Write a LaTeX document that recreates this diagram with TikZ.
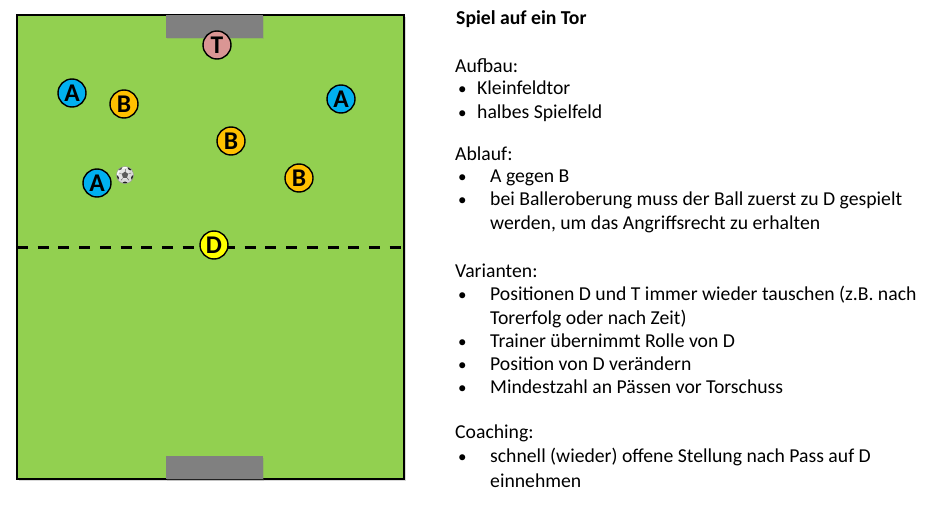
\documentclass[tikz,border=0pt]{standalone}
\usepackage{fontspec}
\setmainfont{Carlito}
\usetikzlibrary{shadows,calc}
\definecolor{fieldgreen}{HTML}{92D050}
\definecolor{plblue}{HTML}{00B0F0}
\definecolor{plorange}{HTML}{FFC000}
\definecolor{plyellow}{HTML}{FFFF00}
\definecolor{plpink}{HTML}{DA9694}
\definecolor{goalgray}{HTML}{808080}
\begin{document}
\begin{tikzpicture}[x=1pt,y=-1pt,
  player/.style={circle,draw=black,line width=1.4pt,minimum size=28pt,inner sep=0pt,
    font=\fontsize{25.5}{25}\selectfont\bfseries},
  pA/.style={player,fill=plblue},
  pB/.style={player,fill=plorange},
  pD/.style={player,fill=plyellow},
  pT/.style={player,fill=plpink},
  goalbox/.style={fill=goalgray,drop shadow={opacity=0.25,shadow xshift=1pt,shadow yshift=-1.5pt}},
  txt/.style={anchor=base west,inner sep=0pt,font=\fontsize{19.7}{23}\selectfont},
  ttl/.style={txt,font=\fontsize{19.7}{23}\selectfont\bfseries},
  bul/.style={anchor=base west,inner sep=0pt,font=\fontsize{17}{21}\selectfont},
]
\useasboundingbox (0,0) rectangle (931,508);
% field
\path[fill=fieldgreen,draw=black,line width=1.3pt,drop shadow={opacity=0.3,shadow xshift=1.5pt,shadow yshift=-2pt}] (17,15) rectangle (404,479);
% goals
\path[goalbox] (166,15) rectangle (263,38);
\path[goalbox] (166,456) rectangle (263,479);
% halfway dashed line
\coordinate (hl) at (17,247.5);
\coordinate (hr) at (404,247.5);
\draw[line width=3.3pt,dash pattern=on 11pt off 9.7pt] (hl) -- (hr);
% players
\node[pT] (t) at (217,45) {T};
\node[pA] (a1) at (72,93) {A};
\node[pB] (b1) at (124,104) {B};
\node[pA] (a2) at (341,99) {A};
\node[pB] (b2) at (231,141) {B};
\node[pA] (a3) at (97,183) {A};
\node[pB] (b3) at (299,178) {B};
\node[pD] (d) at (214,245) {D};
% ball
\coordinate (bc) at (125,175);
\begin{scope}
  \clip (bc) circle (8.5pt);
  \fill[white] (bc) circle (8.5pt);
  \fill[black!90] ($(bc)+(90:3.4pt)$) -- ($(bc)+(162:3.4pt)$) -- ($(bc)+(234:3.4pt)$) -- ($(bc)+(306:3.4pt)$) -- ($(bc)+(18:3.4pt)$) -- cycle;
  \foreach \a in {90,162,234,306,18} {
    \draw[black!55,line width=0.5pt] ($(bc)+(\a:3.4pt)$) -- ($(bc)+(\a:6.5pt)$);
    \fill[black!85] ($(bc)+(\a+180:9.5pt)$) circle (3pt);
  }
  \fill[black,opacity=0.15] ($(bc)+(1.5pt,-1.5pt)$) circle (8.5pt);
  \fill[white,opacity=0.3] ($(bc)+(-1.5pt,1.5pt)$) circle (6pt);
\end{scope}
\draw[black!40,line width=0.4pt] (bc) circle (8.5pt);
% text
\node[ttl] (title) at (456,25) {Spiel auf ein Tor};
\node[txt] (aufbau) at (455,73) {Aufbau:};
\node[bul] (ub1) at (458,95) {•};
\node[txt] (u1) at (477,95) {Kleinfeldtor};
\node[bul] (ub2) at (458,119) {•};
\node[txt] (u2) at (477,119) {halbes Spielfeld};
\node[txt] (ablauf) at (455,160) {Ablauf:};
\node[bul] (lb1) at (458,182) {•};
\node[txt] (l1) at (490,182) {A gegen B};
\node[bul] (lb2) at (458,205) {•};
\node[txt] (l2) at (490,205) {bei Balleroberung muss der Ball zuerst zu D gespielt};
\node[txt] (l2b) at (490,229) {werden, um das Angriffsrecht zu erhalten};
\node[txt] (var) at (455,277) {Varianten:};
\node[bul] (vb1) at (458,300) {•};
\node[txt] (v1) at (490,300) {Positionen D und T immer wieder tauschen (z.B. nach};
\node[txt] (v1b) at (490,324) {Torerfolg oder nach Zeit)};
\node[bul] (vb2) at (458,347) {•};
\node[txt] (v2) at (490,347) {Trainer übernimmt Rolle von D};
\node[bul] (vb3) at (458,370) {•};
\node[txt] (v3) at (490,370) {Position von D verändern};
\node[bul] (vb4) at (458,393) {•};
\node[txt] (v4) at (490,393) {Mindestzahl an Pässen vor Torschuss};
\node[txt] (coach) at (455,438) {Coaching:};
\node[bul] (cb1) at (458,462) {•};
\node[txt] (c1) at (490,462) {schnell (wieder) offene Stellung nach Pass auf D};
\node[txt] (c1b) at (490,487) {einnehmen};
\end{tikzpicture}
\end{document}
